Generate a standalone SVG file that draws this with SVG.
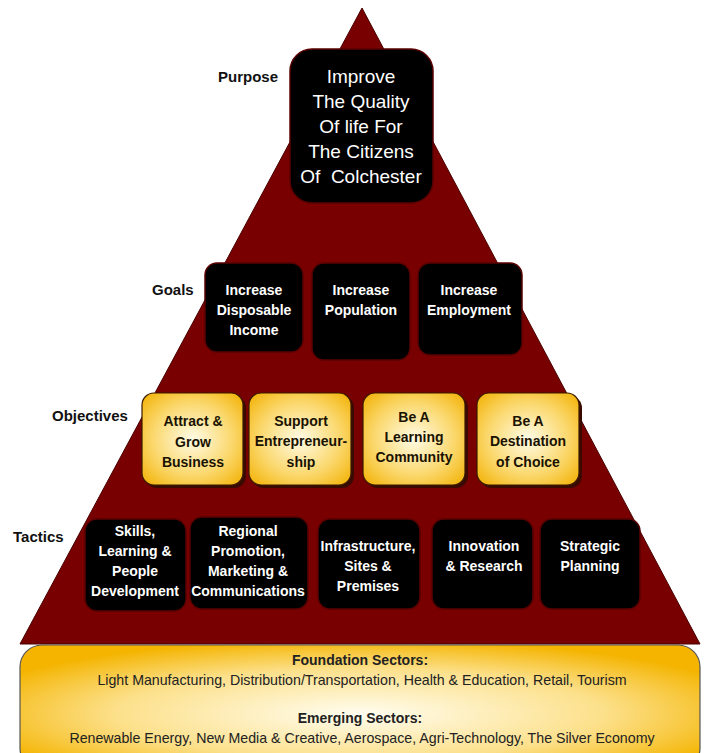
<svg xmlns="http://www.w3.org/2000/svg" width="704" height="753" viewBox="0 0 704 753">
<style>
.lbl{font-family:"Liberation Sans",Arial,sans-serif;font-weight:bold;font-size:15px;fill:#111;}
.wt{font-family:"Liberation Sans",Arial,sans-serif;font-weight:bold;font-size:14px;fill:#fff;text-anchor:middle;}
.yt{font-family:"Liberation Sans",Arial,sans-serif;font-weight:bold;font-size:14px;fill:#1a1200;text-anchor:middle;}
.pt{font-family:"Liberation Sans",Arial,sans-serif;font-size:19px;fill:#fff;text-anchor:middle;}
.bt{font-family:"Liberation Sans",Arial,sans-serif;font-size:14.2px;fill:#222;text-anchor:middle;}
.bb{font-family:"Liberation Sans",Arial,sans-serif;font-size:14px;font-weight:bold;fill:#222;text-anchor:middle;}
.blk{fill:#000;stroke:#5a0000;stroke-width:1.5;}
.yel{fill:url(#yg);stroke:#3a1a00;stroke-width:1.2;}
</style>
<defs>
<radialGradient id="yg" cx="0.5" cy="0.5" r="0.7">
<stop offset="0" stop-color="#fffbe6"/>
<stop offset="0.55" stop-color="#fbd970"/>
<stop offset="1" stop-color="#f2b000"/>
</radialGradient>
<radialGradient id="bg" cx="0.5" cy="0.55" r="0.6">
<stop offset="0" stop-color="#fffdf0"/>
<stop offset="0.6" stop-color="#fce08a"/>
<stop offset="1" stop-color="#f4b400"/>
</radialGradient>
</defs>
<rect width="704" height="753" fill="#fff"/>
<g id="pyramid">
<polygon points="362,8 20,644 700,644" fill="#780000" stroke="#4a0000" stroke-width="1"/>
</g>
<g id="purpose">
<text class="lbl" x="218" y="82">Purpose</text>
<rect class="blk" x="290" y="49" width="143" height="154" rx="22"/>
<text class="pt" x="361" y="83">Improve</text>
<text class="pt" x="361" y="108">The Quality</text>
<text class="pt" x="361" y="133">Of life For</text>
<text class="pt" x="361" y="158">The Citizens</text>
<text class="pt" x="361" y="183" xml:space="preserve">Of  Colchester</text>
</g>
<g id="goals">
<text class="lbl" x="152" y="295">Goals</text>
<g id="goal1"><rect class="blk" x="205" y="263" width="98" height="89" rx="12"/>
<text class="wt" x="254" y="295">Increase</text><text class="wt" x="254" y="315">Disposable</text><text class="wt" x="254" y="335">Income</text></g>
<g id="goal2"><rect class="blk" x="312" y="263" width="98" height="97" rx="12"/>
<text class="wt" x="361" y="295">Increase</text><text class="wt" x="361" y="315">Population</text></g>
<g id="goal3"><rect class="blk" x="418" y="263" width="104" height="92" rx="12"/>
<text class="wt" x="469" y="295">Increase</text><text class="wt" x="469" y="315">Employment</text></g>
</g>
<g id="objectives">
<text class="lbl" x="52" y="421">Objectives</text>
<g id="obj1"><rect x="145" y="396" width="101" height="92" rx="12" fill="#3a0a00"/><rect class="yel" x="142" y="393" width="101" height="92" rx="12"/>
<text class="yt" x="193" y="426">Attract &amp;</text><text class="yt" x="193" y="447">Grow</text><text class="yt" x="193" y="467">Business</text></g>
<g id="obj2"><rect x="252" y="396" width="102" height="92" rx="12" fill="#3a0a00"/><rect class="yel" x="249" y="393" width="102" height="92" rx="12"/>
<text class="yt" x="301" y="426">Support</text><text class="yt" x="301" y="446">Entrepreneur-</text><text class="yt" x="301" y="467">ship</text></g>
<g id="obj3"><rect x="366" y="396" width="102" height="92" rx="12" fill="#3a0a00"/><rect class="yel" x="363" y="393" width="102" height="92" rx="12"/>
<text class="yt" x="414" y="422">Be A</text><text class="yt" x="414" y="442">Learning</text><text class="yt" x="414" y="462">Community</text></g>
<g id="obj4"><rect x="480" y="396" width="102" height="92" rx="12" fill="#3a0a00"/><rect class="yel" x="477" y="393" width="102" height="92" rx="12"/>
<text class="yt" x="528" y="426">Be A</text><text class="yt" x="528" y="446">Destination</text><text class="yt" x="528" y="467">of Choice</text></g>
</g>
<g id="tactics">
<text class="lbl" x="13" y="542">Tactics</text>
<g id="tac1"><rect class="blk" x="85" y="519" width="101" height="92" rx="12"/>
<text class="wt" x="135" y="536">Skills,</text><text class="wt" x="135" y="556">Learning &amp;</text><text class="wt" x="135" y="576">People</text><text class="wt" x="135" y="596">Development</text></g>
<g id="tac2"><rect class="blk" x="190" y="517" width="118" height="92" rx="12"/>
<text class="wt" x="248" y="536">Regional</text><text class="wt" x="248" y="556">Promotion,</text><text class="wt" x="248" y="576">Marketing &amp;</text><text class="wt" x="248" y="596">Communications</text></g>
<g id="tac3"><rect class="blk" x="318" y="519" width="102" height="90" rx="12"/>
<text class="wt" x="368" y="551">Infrastructure,</text><text class="wt" x="368" y="571">Sites &amp;</text><text class="wt" x="368" y="591">Premises</text></g>
<g id="tac4"><rect class="blk" x="432" y="519" width="101" height="90" rx="12"/>
<text class="wt" x="484" y="551">Innovation</text><text class="wt" x="484" y="571">&amp; Research</text></g>
<g id="tac5"><rect class="blk" x="540" y="519" width="100" height="90" rx="12"/>
<text class="wt" x="590" y="551">Strategic</text><text class="wt" x="590" y="571">Planning</text></g>
</g>
<g id="sectors">
<rect x="20" y="645" width="680" height="125" rx="22" fill="url(#bg)" stroke="#555" stroke-width="1.2"/>
<text class="bb" x="360" y="665">Foundation Sectors:</text>
<text class="bt" x="362" y="685">Light Manufacturing, Distribution/Transportation, Health &amp; Education, Retail, Tourism</text>
<text class="bb" x="360" y="723">Emerging Sectors:</text>
<text class="bt" x="362" y="743">Renewable Energy, New Media &amp; Creative, Aerospace, Agri-Technology, The Silver Economy</text>
</g>
<g id="connectors"></g>
</svg>
